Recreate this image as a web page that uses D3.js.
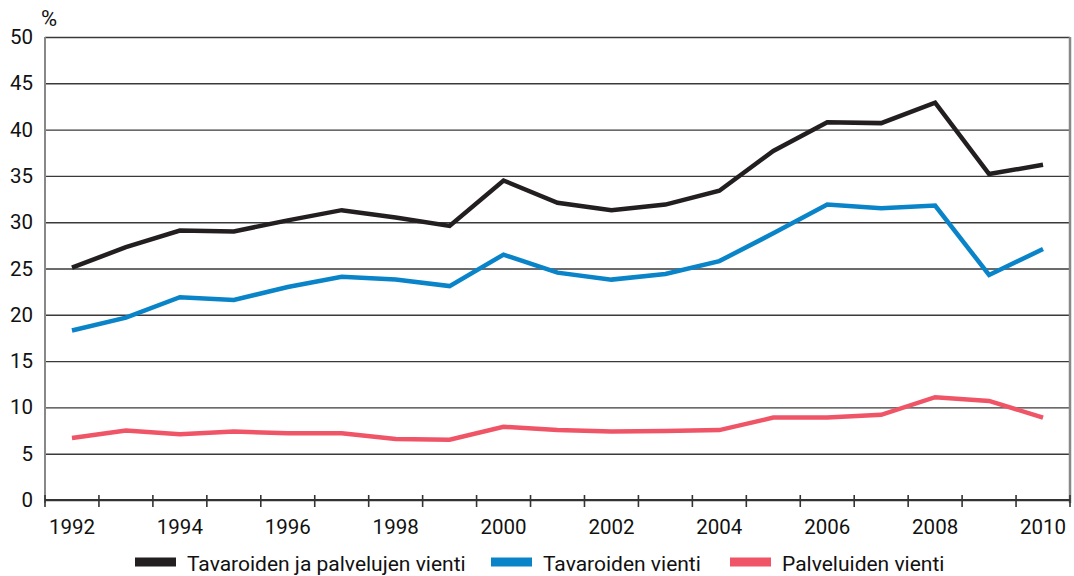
<!DOCTYPE html>
<html>
<head>
<meta charset="utf-8">
<script src="https://cdn.jsdelivr.net/npm/d3@7/dist/d3.min.js"></script>
<style>
  html, body { margin: 0; padding: 0; background: #fff; }
  svg { display: block; }
  text { font-family: Roboto, "Liberation Sans", sans-serif; fill: #111; }
</style>
</head>
<body>
<svg id="chart" width="1074" height="576"></svg>
<script>
const years = [1992,1993,1994,1995,1996,1997,1998,1999,2000,2001,2002,2003,2004,2005,2006,2007,2008,2009,2010];
const totalExports = [25.1,27.3,29.1,29.0,30.2,31.3,30.5,29.6,34.5,32.1,31.3,31.9,33.4,37.7,40.8,40.7,42.9,35.2,36.2];
const goodsExports = [18.3,19.7,21.9,21.6,23.0,24.1,23.8,23.1,26.5,24.55,23.8,24.4,25.8,28.8,31.9,31.5,31.8,24.3,27.1];
const servicesExports = [6.7,7.5,7.1,7.4,7.2,7.2,6.6,6.5,7.9,7.55,7.4,7.45,7.55,8.9,8.9,9.2,11.1,10.7,8.9];
const seriesNames = ["Tavaroiden ja palvelujen vienti", "Tavaroiden vienti", "Palveluiden vienti"];
const seriesColors = ["#231f20", "#0a84c8", "#ef5566"];
const yTicks = [0,5,10,15,20,25,30,35,40,45,50];
const xLabelYears = [1992,1994,1996,1998,2000,2002,2004,2006,2008,2010];
const yUnit = "%";

const svg = d3.select("#chart");
const pLeft = 45, pRight = 1070, pTop = 37, pBottom = 500;

const x = d3.scaleBand().domain(years).range([pLeft, pRight]);
const y = d3.scaleLinear().domain([0, 50]).range([pBottom, pTop]);

// gridlines
const grid = svg.append("g").attr("transform", `translate(${pLeft},0)`)
  .call(d3.axisLeft(y).tickValues(yTicks).tickSize(-(pRight - pLeft)).tickFormat(""));
grid.select(".domain").remove();
grid.selectAll("line").attr("stroke", "#3a3a3a").attr("stroke-width", 1.4);

// y labels
const yl = svg.append("g").attr("transform", `translate(${pLeft},0)`)
  .call(d3.axisLeft(y).tickValues(yTicks).tickSize(0).tickPadding(12));
yl.select(".domain").remove();
yl.selectAll("text").attr("font-size", 20.5).attr("fill", "#111")
  .style("font-family", "Roboto, 'Liberation Sans', sans-serif");

// left and right frame
svg.append("line").attr("x1", pLeft).attr("x2", pLeft).attr("y1", pTop).attr("y2", pBottom + 3)
  .attr("stroke", "#888").attr("stroke-width", 2);
svg.append("line").attr("x1", pRight).attr("x2", pRight).attr("y1", pTop).attr("y2", pBottom + 3)
  .attr("stroke", "#888").attr("stroke-width", 2.5);

// bottom axis line
svg.append("line").attr("x1", pLeft).attr("x2", pRight).attr("y1", pBottom).attr("y2", pBottom)
  .attr("stroke", "#333").attr("stroke-width", 2);

// x ticks at band boundaries
const tickPos = years.map(d => x(d)).concat([x(years[years.length - 1]) + x.bandwidth()]);
svg.append("g").selectAll("line").data(tickPos).join("line")
  .attr("x1", d => d).attr("x2", d => d).attr("y1", pBottom - 5).attr("y2", pBottom + 7)
  .attr("stroke", "#333").attr("stroke-width", 1.6);

// x labels
const xa = svg.append("g").attr("transform", `translate(0,${pBottom})`)
  .call(d3.axisBottom(x).tickValues(xLabelYears).tickSize(0).tickPadding(19));
xa.select(".domain").remove();
xa.selectAll("text").attr("font-size", 20.5).attr("fill", "#111")
  .style("font-family", "Roboto, 'Liberation Sans', sans-serif");

// unit
svg.append("text").attr("x", 41).attr("y", 26).attr("font-size", 22).text(yUnit);

// lines
const line = d3.line().x((d, i) => x(years[i]) + x.bandwidth() / 2).y(d => y(d));
[totalExports, goodsExports, servicesExports].forEach((s, i) => {
  svg.append("path").datum(s).attr("d", line)
    .attr("fill", "none").attr("stroke", seriesColors[i])
    .attr("stroke-width", 4.5).attr("stroke-linejoin", "miter");
});

// legend
const legendX = [135, 491, 730];
const lg = svg.append("g");
seriesNames.forEach((n, i) => {
  lg.append("rect").attr("x", legendX[i]).attr("y", 557.5).attr("width", 41).attr("height", 9)
    .attr("fill", seriesColors[i]);
  lg.append("text").attr("x", legendX[i] + 52).attr("y", 570.5).attr("font-size", 21).text(n);
});
</script>
</body>
</html>
